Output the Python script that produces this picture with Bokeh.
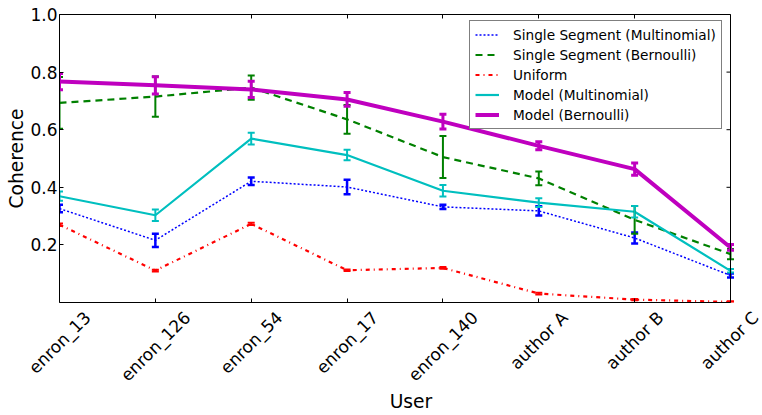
import math
from bokeh.plotting import figure
from bokeh.models import (Range1d, FixedTicker, LinearAxis, ColumnDataSource, Whisker, TeeHead,
                          Legend, LegendItem, PrintfTickFormatter, CustomJSTickFormatter, Span)
from bokeh.embed import file_html
from bokeh.resources import INLINE

# ---------------- data ----------------
users = ["enron_13", "enron_126", "enron_54", "enron_17", "enron_140",
         "author A", "author B", "author C"]

single_multi = [0.326, 0.216, 0.421, 0.401, 0.332, 0.318, 0.224, 0.094]
single_multi_err = [0.013, 0.023, 0.013, 0.025, 0.007, 0.016, 0.019, 0.007]

single_bern = [0.693, 0.715, 0.746, 0.636, 0.505, 0.431, 0.287, 0.168]
single_bern_err = [0.090, 0.070, 0.042, 0.050, 0.073, 0.024, 0.048, 0.018]

uniform = [0.270, 0.111, 0.273, 0.112, 0.120, 0.031, 0.010, 0.002]
uniform_err = [0.004, 0.003, 0.004, 0.003, 0.003, 0.003, 0.002, 0.002]

model_multi = [0.369, 0.303, 0.569, 0.512, 0.388, 0.347, 0.315, 0.110]
model_multi_err = [0.016, 0.020, 0.020, 0.018, 0.020, 0.015, 0.020, 0.006]

model_bern = [0.767, 0.754, 0.740, 0.705, 0.628, 0.544, 0.463, 0.191]
model_bern_err = [0.028, 0.030, 0.028, 0.024, 0.026, 0.014, 0.021, 0.010]

y_ticks = [0.2, 0.4, 0.6, 0.8, 1.0]

series = [
    ("Single Segment (Multinomial)", single_multi, single_multi_err, "#0000ff", 1.5, "2 2", 2.5),
    ("Single Segment (Bernoulli)", single_bern, single_bern_err, "#008000", 2.2, "7 5", 2),
    ("Uniform", uniform, uniform_err, "#ff0000", 2.2, "4 4 1 4", 2),
    ("Model (Multinomial)", model_multi, model_multi_err, "#00bfbf", 2.2, "solid", 2),
    ("Model (Bernoulli)", model_bern, model_bern_err, "#bf00bf", 4, "solid", 3),
]

FONT = "DejaVu Sans"
W, H = 762, 415
BL, BT, BB = 59, 14, 113
AX_RIGHT = 730                      # pixel position of the right spine
n_last = len(users) - 1
px_per_unit = (AX_RIGHT - BL) / n_last
x_end = n_last + (W - AX_RIGHT) / px_per_unit   # frame runs to the canvas edge

p = figure(width=W, height=H, x_range=Range1d(0, x_end), y_range=Range1d(0, 1),
           output_backend="svg", toolbar_location=None,
           min_border_left=BL, min_border_right=0, min_border_top=BT, min_border_bottom=BB)
p.xgrid.visible = False
p.ygrid.visible = False
p.outline_line_color = None
p.background_fill_color = "white"
p.border_fill_color = "white"

xs = list(range(len(users)))

# bottom spine with inward ticks
xa = p.xaxis[0]
xa.bounds = (0, n_last)
xa.ticker = FixedTicker(ticks=xs)
xa.major_label_text_font_size = "1px"
xa.major_label_text_color = None
xa.major_label_standoff = 0
xa.major_tick_in = 4
xa.major_tick_out = 0
xa.minor_tick_line_color = None
xa.axis_line_color = "black"

# second bottom axis: rotated labels centred under the ticks (matplotlib style)
ADV = {"a": 0.613, "e": 0.615, "h": 0.634, "n": 0.634, "o": 0.612, "r": 0.411, "t": 0.392,
       "u": 0.634, "_": 0.5, " ": 0.318, "A": 0.684, "B": 0.686, "C": 0.698}
tick_fs = 17
c45 = math.cos(math.pi / 4)
label_pos = [i + (sum(ADV.get(ch, 0.636) for ch in s) * tick_fs * c45 / 2) / px_per_unit
             for i, s in zip(xs, users)]
lab_axis = LinearAxis(ticker=FixedTicker(ticks=label_pos),
                      formatter=CustomJSTickFormatter(args=dict(names=users),
                                                      code="return names[Math.floor(tick + 1e-9)]"),
                      major_label_orientation=math.pi / 4,
                      major_label_text_font=FONT, major_label_text_font_size="17px",
                      major_label_text_color="black", major_label_standoff=6,
                      major_tick_line_color=None, minor_tick_line_color=None,
                      axis_line_color=None,
                      axis_label="User", axis_label_text_font=FONT,
                      axis_label_text_font_size="18.7px", axis_label_text_font_style="normal",
                      axis_label_text_color="black", axis_label_standoff=-4)
p.add_layout(lab_axis, "below")

ya = p.yaxis[0]
ya.ticker = FixedTicker(ticks=y_ticks)
ya.formatter = PrintfTickFormatter(format="%.1f")
ya.major_label_text_font = FONT
ya.major_label_text_font_size = "17px"
ya.major_label_text_color = "black"
ya.major_label_standoff = 2
ya.major_tick_in = 4
ya.major_tick_out = 0
ya.minor_tick_line_color = None
ya.axis_line_color = "black"
ya.axis_label = "Coherence"
ya.axis_label_text_font = FONT
ya.axis_label_text_font_size = "18.7px"
ya.axis_label_text_font_style = "normal"
ya.axis_label_text_color = "black"
ya.axis_label_standoff = 0

# top spine with inward ticks
top_ax = LinearAxis(ticker=FixedTicker(ticks=xs), bounds=(0, n_last),
                    major_label_text_font_size="1px", major_label_text_color=None,
                    major_label_standoff=0, major_tick_in=4, major_tick_out=0,
                    minor_tick_line_color=None, axis_line_color="black")
p.add_layout(top_ax, "above")

# right spine with inward ticks
p.add_layout(Span(location=n_last, dimension="height", line_color="black", line_width=1))
tick_len = 4 / px_per_unit
p.segment(x0=[n_last] * len(y_ticks), y0=y_ticks, x1=[n_last - tick_len] * len(y_ticks),
          y1=y_ticks, line_color="black", line_width=1)

# series with error bars
items = []
for label, ys, errs, color, lw, dash, elw in series:
    src = ColumnDataSource(dict(x=xs, y=ys,
                                lower=[a - b for a, b in zip(ys, errs)],
                                upper=[a + b for a, b in zip(ys, errs)]))
    r = p.line("x", "y", source=src, line_color=color, line_width=lw, line_dash=dash)
    w = Whisker(source=src, base="x", lower="lower", upper="upper", dimension="height",
                line_color=color, line_width=elw, level="glyph",
                upper_head=TeeHead(size=7, line_color=color, line_width=elw),
                lower_head=TeeHead(size=7, line_color=color, line_width=elw))
    p.add_layout(w)
    items.append(LegendItem(label=label, renderers=[r]))

legend = Legend(items=items, location=(410, 173), padding=5, spacing=3,
                glyph_width=24, glyph_height=17, label_height=17, label_standoff=14,
                label_text_font=FONT, label_text_font_size="13.7px", label_text_color="black",
                border_line_color="black", border_line_width=1,
                background_fill_color="white", background_fill_alpha=1)
p.add_layout(legend)

open("out.html", "w").write(file_html(p, INLINE))
